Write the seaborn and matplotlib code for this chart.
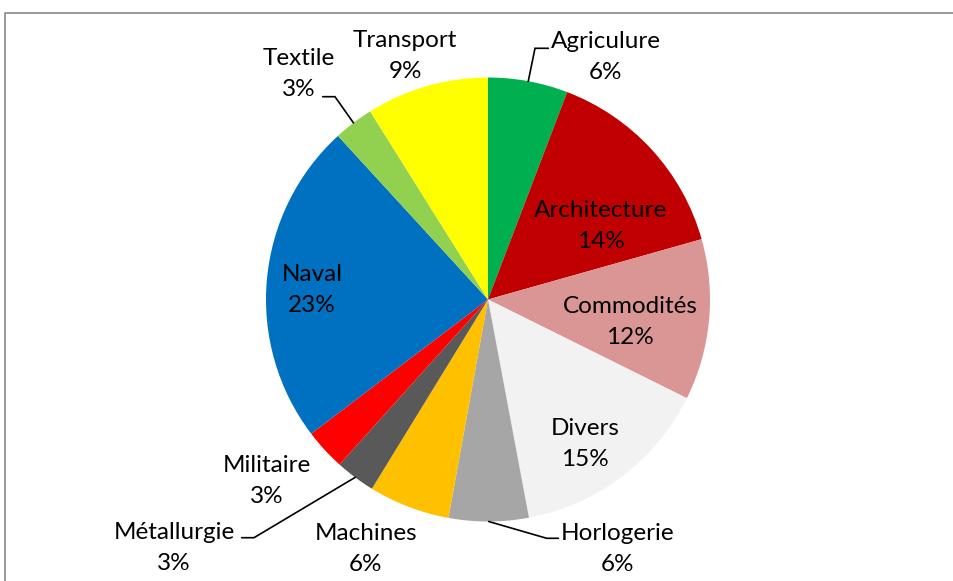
import matplotlib.pyplot as plt
import seaborn as sns
import numpy as np

# data
categories = ["Agriculure", "Architecture", "Commodités", "Divers", "Horlogerie",
              "Machines", "Métallurgie", "Militaire", "Naval", "Textile", "Transport"]
values = [5.8, 14.8, 11.7, 14.7, 5.8, 5.9, 2.9, 3.0, 23.5, 2.9, 8.9]
pct_labels = ["6%", "14%", "12%", "15%", "6%", "6%", "3%", "3%", "23%", "3%", "9%"]
colors = ["#00B050", "#C00000", "#DA9694", "#F2F2F2", "#A6A6A6",
          "#FFC000", "#595959", "#FF0000", "#0070C0", "#92D050", "#FFFF00"]

# layout (pixels in the 954x581 image)
W, H = 954, 581
CX, CY, R = 488, 299.5, 222
label_pos = [(606, 57), (601, 226), (630, 322), (585, 444), (618, 549),
             (366, 549), (174, 548), (267, 481), (312, 290), (299, 74), (405, 56)]
# leader lines: elbow and end points
leaders = {0: [(535, 48.3), (548.3, 48.3)],
           4: [(546.7, 538.3), (558.3, 538.3)],
           6: [(254, 537.7), (241.7, 537.7)],
           9: [(335, 96.7), (322.7, 96.7)]}


def to_data(px, py):
    return (px - CX) / R, (CY - py) / R


sns.set_theme(style="white")
plt.rcParams['font.family'] = ['Lato', 'DejaVu Sans']

fig = plt.figure(figsize=(W / 100, H / 100), dpi=100)
ax = fig.add_axes([0, 0, 1, 1])
wedges, _ = ax.pie(values, colors=colors, startangle=90, counterclock=False,
                   radius=1, center=(0, 0), wedgeprops=dict(linewidth=0))
ax.set_xlim(-CX / R, (W - CX) / R)
ax.set_ylim(-(H - CY) / R, CY / R)
ax.set_aspect('equal')
ax.axis('off')

for i, (cat, pct) in enumerate(zip(categories, pct_labels)):
    x, y = to_data(*label_pos[i])
    ax.text(x, y, f"{cat}\n{pct}", ha="center", va="center", fontsize=17.5,
            linespacing=1.55, color="black")

for i, pts in leaders.items():
    w = wedges[i]
    theta = np.deg2rad((w.theta1 + w.theta2) / 2)
    xs = [np.cos(theta)] + [to_data(*p)[0] for p in pts]
    ys = [np.sin(theta)] + [to_data(*p)[1] for p in pts]
    ax.plot(xs, ys, color="black", lw=1.2, solid_joinstyle="miter")

# chart border (only top and left edge visible)
fig.add_artist(plt.Line2D([5 / W, 5 / W, 1], [0, 1 - 12.7 / H, 1 - 12.7 / H],
                          transform=fig.transFigure, color="#898989", lw=1.2))

fig.savefig("out.png", dpi=100)
